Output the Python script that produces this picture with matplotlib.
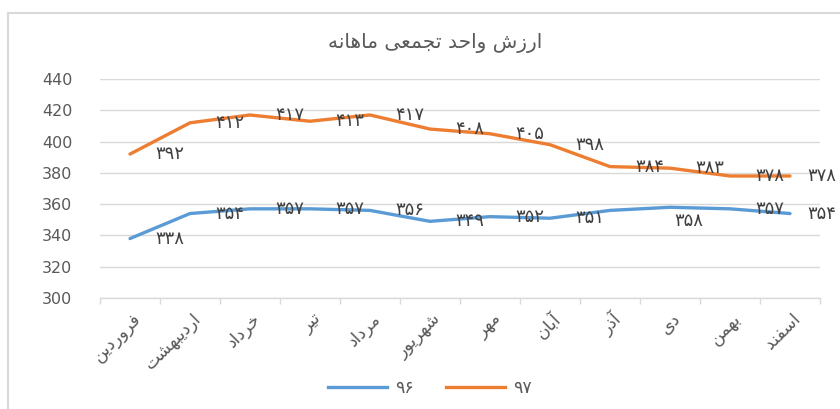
import matplotlib
matplotlib.use("Agg")
import matplotlib.pyplot as plt
from matplotlib.lines import Line2D
import matplotlib.transforms as mtransforms

# ---------------- data ----------------
title_text = "ارزش واحد تجمعی ماهانه"
months = ["فروردین", "اردیبهشت", "خرداد", "تیر", "مرداد", "شهریور",
          "مهر", "آبان", "آذر", "دی", "بهمن", "اسفند"]
series_names = ["96", "97"]
values_96 = [338, 354, 357, 357, 356, 349, 352, 351, 356, 358, 357, 354]
values_97 = [392, 412, 417, 413, 417, 408, 405, 398, 384, 383, 378, 378]
labels_96 = [338, 354, 357, 357, 356, 349, 352, 351, None, 358, 357, 354]
labels_97 = [392, 412, 417, 413, 417, 408, 405, 398, 384, 383, 378, 378]
y_ticks = [300, 320, 340, 360, 380, 400, 420, 440]

# ------------- simple Persian shaping (presentation forms, visual order) -------------
FORMS = {  # isolated, final, initial, medial
    'ا': ('\uFE8D', '\uFE8E', None, None),
    'آ': ('\uFE81', '\uFE82', None, None),
    'ب': ('\uFE8F', '\uFE90', '\uFE91', '\uFE92'),
    'ت': ('\uFE95', '\uFE96', '\uFE97', '\uFE98'),
    'ج': ('\uFE9D', '\uFE9E', '\uFE9F', '\uFEA0'),
    'ح': ('\uFEA1', '\uFEA2', '\uFEA3', '\uFEA4'),
    'خ': ('\uFEA5', '\uFEA6', '\uFEA7', '\uFEA8'),
    'د': ('\uFEA9', '\uFEAA', None, None),
    'ذ': ('\uFEAB', '\uFEAC', None, None),
    'ر': ('\uFEAD', '\uFEAE', None, None),
    'ز': ('\uFEAF', '\uFEB0', None, None),
    'س': ('\uFEB1', '\uFEB2', '\uFEB3', '\uFEB4'),
    'ش': ('\uFEB5', '\uFEB6', '\uFEB7', '\uFEB8'),
    'ع': ('\uFEC9', '\uFECA', '\uFECB', '\uFECC'),
    'ف': ('\uFED1', '\uFED2', '\uFED3', '\uFED4'),
    'م': ('\uFEE1', '\uFEE2', '\uFEE3', '\uFEE4'),
    'ن': ('\uFEE5', '\uFEE6', '\uFEE7', '\uFEE8'),
    'ه': ('\uFEE9', '\uFEEA', '\uFEEB', '\uFEEC'),
    'و': ('\uFEED', '\uFEEE', None, None),
    'ی': ('\uFEEF', '\uFEF0', '\uFEF3', '\uFEF4'),
}


def shape(word):
    out = []
    n = len(word)
    for i, ch in enumerate(word):
        if ch not in FORMS:
            out.append(ch)
            continue
        f = FORMS[ch]
        prev = word[i - 1] if i > 0 else None
        nxt = word[i + 1] if i < n - 1 else None
        joins_prev = prev in FORMS and FORMS[prev][2] is not None
        joins_next = f[2] is not None and nxt in FORMS
        if joins_prev and joins_next:
            out.append(f[3])
        elif joins_prev:
            out.append(f[1])
        elif joins_next:
            out.append(f[2])
        else:
            out.append(f[0])
    return ''.join(reversed(out))


PERSIAN_DIGITS = str.maketrans('0123456789', '۰۱۲۳۴۵۶۷۸۹')


def fa_num(v):
    return str(v).translate(PERSIAN_DIGITS)


# ---------------- figure ----------------
plt.rcParams['font.family'] = ['DejaVu Sans']
W, H, DPI = 840, 409, 100
fig = plt.figure(figsize=(W / DPI, H / DPI), dpi=DPI)
fig.patch.set_facecolor('white')

# chart frame (only left and top edges visible)
frame_col = '#d9d9d9'
fig.add_artist(Line2D([8 / W, 8 / W], [0, 1 - 13 / H], transform=fig.transFigure,
                      color=frame_col, lw=1.5))
fig.add_artist(Line2D([8 / W, 1.0], [1 - 13 / H, 1 - 13 / H], transform=fig.transFigure,
                      color=frame_col, lw=1.5))

ax = fig.add_axes([100 / W, 1 - 298 / H, 720 / W, (298 - 79) / H])
x = list(range(len(months)))
blue = '#5B9BD5'
orange = '#ED7D31'
text_col = '#595959'

ax.plot(x, values_96, color=blue, lw=2.4, solid_capstyle='round', zorder=3)
ax.plot(x, values_97, color=orange, lw=2.4, solid_capstyle='round', zorder=3)

ax.set_xlim(-0.5, len(months) - 0.5)
ax.set_ylim(y_ticks[0], y_ticks[-1])
ax.set_yticks(y_ticks)
ax.set_yticklabels([str(t) for t in y_ticks], color=text_col, fontsize=11.5)
ax.tick_params(axis='y', length=0, pad=20)
ax.grid(axis='y', color='#d9d9d9', lw=1)
ax.set_axisbelow(True)
for s in ['top', 'right', 'left']:
    ax.spines[s].set_visible(False)
ax.spines['bottom'].set_color('#d9d9d9')
ax.spines['bottom'].set_linewidth(1)

ax.set_xticks(x)
ax.set_xticklabels([])
ax.tick_params(axis='x', which='major', length=0)
ax.set_xticks([i - 0.5 for i in range(len(months) + 1)], minor=True)
ax.tick_params(axis='x', which='minor', length=4, color='#d9d9d9', width=1)

# x tick labels (rotated)
for i, m in enumerate(months):
    off = mtransforms.offset_copy(ax.get_xaxis_transform(), fig=fig,
                                  x=8, y=-18, units='dots')
    ax.text(i, 0, shape(m), transform=off, rotation=45, rotation_mode='anchor',
            ha='right', va='center', fontsize=12.5, color=text_col)

# data labels
for vals, labs in ((values_96, labels_96), (values_97, labels_97)):
    for i, (v, lab) in enumerate(zip(vals, labs)):
        if lab is None:
            continue
        dx, dy, ha = 25, 0, 'left'
        if vals is values_96 and i == 9:
            dx, dy, ha = 19, -14, 'center'
        if i == len(vals) - 1:
            dx = 17
        ax.annotate(fa_num(lab), (i, v), xytext=(dx, dy), textcoords='offset pixels',
                    ha=ha, va='center', fontsize=13, color='#404040',
                    annotation_clip=False, zorder=4)

# title
fig.text(435 / W, 1 - 43 / H, shape(title_text), ha='center', va='center',
         fontsize=14.5, color=text_col)

# legend
handles = [Line2D([], [], color=blue, lw=2.4), Line2D([], [], color=orange, lw=2.4)]
leg = fig.legend(handles, [fa_num(n) for n in series_names], loc='center',
                 bbox_to_anchor=(430 / W, 1 - 388 / H), ncol=2, frameon=False,
                 fontsize=12.5, handlelength=3.4, columnspacing=1.8, handletextpad=0.5)
for t in leg.get_texts():
    t.set_color(text_col)

fig.savefig('out.png', dpi=DPI, facecolor='white')
